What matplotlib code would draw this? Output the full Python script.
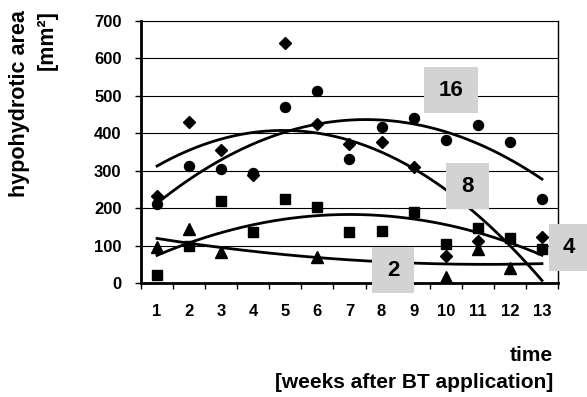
import numpy as np
import matplotlib.pyplot as plt
from matplotlib.patches import Rectangle

plt.rcParams['font.family'] = ['Liberation Sans', 'DejaVu Sans']
plt.rcParams['font.weight'] = 'bold'

weeks = np.arange(1, 14)
# circles -> dose 16
circles = [211, 313, 303, 293, 470, 512, 331, 415, 441, 381, 421, 377, 224]
# diamonds -> dose 8
diamonds = [232, 430, 355, 288, 640, 423, 370, 375, 310, 73, 113, np.nan, 122]
# squares -> dose 4
squares = [21, 100, 219, 135, 223, 202, 135, 140, 190, 104, 146, 121, 90]
# triangles -> dose 2
triangles = [97, 143, 82, np.nan, np.nan, 70, np.nan, np.nan, np.nan, 17, 90, 39, np.nan]

y_ticks = [0, 100, 200, 300, 400, 500, 600, 700]

fig = plt.figure(figsize=(5.87, 3.97), dpi=100)
ax = fig.add_axes([0.2402, 0.2872, 0.7104, 0.6607])

series = [(circles, 'o', 7.2), (diamonds, 'D', 6.3), (squares, 's', 7), (triangles, '^', 8)]
xs = np.linspace(1, 13, 200)
for vals, mk, ms in series:
    v = np.array(vals, dtype=float)
    ok = ~np.isnan(v)
    ax.plot(weeks[ok], v[ok], linestyle='none', marker=mk, ms=ms, color='black', zorder=3)
    # second order trend line like excel
    coef = np.polyfit(weeks[ok], v[ok], 2)
    ax.plot(xs, np.polyval(coef, xs), color='black', lw=2, zorder=4)

ax.set_xlim(0.5, 13.5)
ax.set_ylim(0, 700)
ax.set_yticks(y_ticks)
ax.yaxis.grid(True, color='black', lw=0.8)
ax.set_axisbelow(True)
ax.set_xticks(weeks)
ax.set_xticks(np.arange(0.5, 14, 1), minor=True)
ax.tick_params(axis='x', which='major', length=0, labelsize=12, pad=15)
ax.tick_params(axis='x', which='minor', length=4.5, width=1, direction='out')
ax.tick_params(axis='y', length=4.5, width=1, labelsize=12, pad=9.5)
for lab in ax.get_xticklabels() + ax.get_yticklabels():
    lab.set_fontweight('bold')

ax.spines['left'].set_linewidth(2)
ax.spines['bottom'].set_linewidth(2)
ax.spines['top'].set_linewidth(0.8)
ax.spines['right'].set_linewidth(1)

# dose labels in grey boxes (x0, x1, y0, y1, text)
boxes = [(9.32, 11.0, 453, 576, '16'), (10.01, 11.35, 197, 320, '8'),
         (13.22, 14.47, 32, 157, '4'), (7.70, 9.01, -27, 96, '2')]
for x0, x1, y0, y1, t in boxes:
    ax.add_patch(Rectangle((x0, y0), x1 - x0, y1 - y0, facecolor='#d3d3d3',
                           edgecolor='none', clip_on=False, zorder=5))
    ax.text((x0 + x1) / 2, (y0 + y1) / 2, t, ha='center', va='center',
            fontsize=16, fontweight='bold', zorder=6, clip_on=False)

fig.text(0.057, 0.975, 'hypohydrotic area\n[mm²]', rotation=90, ha='center', va='top',
         multialignment='right', fontsize=15.5, fontweight='bold', linespacing=1.4)
fig.text(0.942, 0.07, 'time\n[weeks after BT application]', ha='right', va='center',
         multialignment='right', fontsize=15, fontweight='bold', linespacing=1.55)

fig.savefig('out.png', dpi=100)
